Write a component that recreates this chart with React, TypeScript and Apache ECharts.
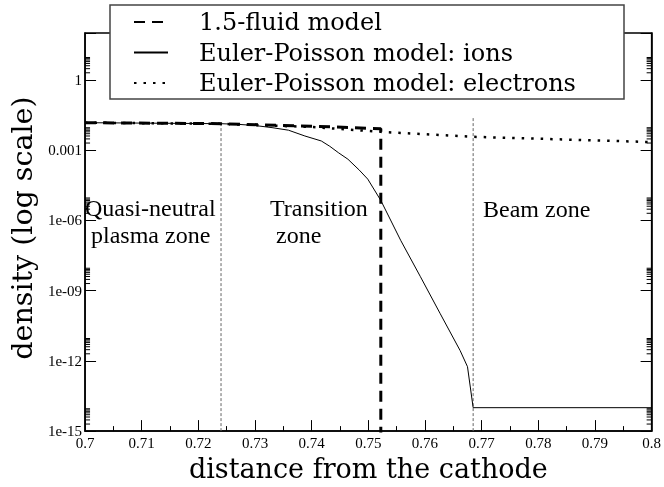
import React, { useEffect, useRef } from "react";
import * as echarts from "echarts";

// ---- data (x = distance from the cathode, values = density) ----
const fluidX = [0.7, 0.724, 0.74, 0.7522, 0.7522];
const fluidDensity = [0.0148, 0.0134, 0.0105, 0.0082, 1e-16];

const ionX = [0.7, 0.712, 0.724, 0.727, 0.73, 0.733, 0.7359, 0.7388, 0.7417, 0.7432, 0.7447, 0.7464, 0.7484, 0.7499, 0.7522, 0.7557, 0.7592, 0.7627, 0.7662, 0.7675, 0.7685, 0.8];
const ionDensity = [0.0148, 0.0141, 0.0134, 0.0126, 0.0112, 0.0091, 0.00708, 0.0040, 0.00245, 1.45e-3, 7.8e-4, 4.07e-4, 1.4e-4, 5.75e-5, 7.08e-6, 1.41e-7, 3.89e-9, 1.02e-10, 2.75e-12, 5.62e-13, 1.0e-14, 1.0e-14];

const electronX = [0.7, 0.724, 0.74, 0.7522, 0.7685, 0.8];
const electronDensity = [0.0148, 0.0132, 0.0097, 0.006, 0.0037, 0.0022];

// zone boundaries (x position, top of marker line)
const boundaryX = [0.724, 0.7685];
const boundaryTop = [0.0134, 0.024];

const seriesNames = ["1.5-fluid model", "Euler-Poisson model: ions", "Euler-Poisson model: electrons"];

// axis: exponents of ten
const yMinExp = -15;
const yMaxExp = 2;
const yMajorStep = 3;
const xMin = 0.7;
const xMax = 0.8;
const xStep = 0.01;

const toLogPts = (xs: number[], ys: number[]) => xs.map((x, i) => [x, Math.log10(ys[i])]);

function yLabel(v: number): string {
  const k = Math.round(v);
  if (Math.abs(v - k) > 1e-9 || k % 3 !== 0) return "";
  if (k === 0) return "1";
  if (k === -3) return "0.001";
  return "1e-" + String(-k).padStart(2, "0");
}

export default function App() {
  const ref = useRef<HTMLDivElement>(null);
  useEffect(() => {
    if (!ref.current) return;
    const chart = echarts.init(ref.current, undefined, { renderer: "svg" });

    const minorTickData: number[][] = [];
    for (let k = yMinExp; k <= 0; k += yMajorStep) {
      for (let m = 2; m <= 9; m++) minorTickData.push([xMin, k + Math.log10(m)]);
    }

    const serif = "Liberation Serif";
    const cm = "DejaVu Serif";

    const yAxisBase = {
      type: "value",
      min: yMinExp,
      max: yMaxExp,
      interval: yMajorStep,
      splitLine: { show: false },
      axisLine: { show: true, lineStyle: { color: "#000", width: 1.5 } },
      axisTick: { show: true, inside: true, length: 11, lineStyle: { color: "#000", width: 1 } },
    };

    chart.setOption({
      animation: false,
      grid: { left: 82, right: 11, top: 33, bottom: 54, show: true, borderColor: "#000", borderWidth: 1.5, backgroundColor: "transparent" },
      xAxis: {
        type: "value",
        min: xMin,
        max: xMax,
        interval: xStep,
        splitLine: { show: false },
        axisLine: { show: true, onZero: false, lineStyle: { color: "#000", width: 1.5 } },
        axisTick: { show: true, inside: true, length: 11, lineStyle: { color: "#000", width: 1 } },
        minorTick: { show: true, splitNumber: 2, length: 5, lineStyle: { color: "#000", width: 1 } },
        axisLabel: {
          color: "#000",
          fontFamily: serif,
          fontSize: 15,
          margin: 4,
          formatter: (v: number) => String(Math.round(v * 1000) / 1000),
        },
        name: "distance from the cathode",
        nameLocation: "middle",
        nameGap: 18,
        nameTextStyle: { color: "#000", fontFamily: cm, fontSize: 27 },
      },
      yAxis: [
        {
          ...yAxisBase,
          position: "left",
          axisLabel: { color: "#000", fontFamily: serif, fontSize: 15, margin: 3, formatter: yLabel },
          name: "density (log scale)",
          nameLocation: "middle",
          nameGap: 40,
          nameTextStyle: { color: "#000", fontFamily: cm, fontSize: 28.5, padding: [0, 0, 0, 8] },
        },
        {
          ...yAxisBase,
          position: "right",
          axisLabel: { show: false },
        },
      ],
      legend: {
        orient: "vertical",
        left: 110,
        top: 5,
        padding: [5, 10, 4, 23],
        itemWidth: 34,
        itemHeight: 14,
        itemGap: 6.5,
        z: 10,
        data: seriesNames,
        itemStyle: { opacity: 0 },
        textStyle: { color: "#000", fontFamily: cm, fontSize: 24, lineHeight: 24, padding: [0, 0, 0, 26] },
      },
      graphic: [
        {
          type: "rect",
          z: 5,
          shape: { x: 110, y: 5, width: 514, height: 94 },
          style: { fill: "#fff", stroke: "#444", lineWidth: 1.5 },
        },
        { type: "text", z: 6, x: 85, y: 208, style: { text: "Quasi-neutral", font: `24px "${serif}"`, fill: "#000", textVerticalAlign: "middle" } },
        { type: "text", z: 6, x: 91, y: 235, style: { text: "plasma zone", font: `24px "${serif}"`, fill: "#000", textVerticalAlign: "middle" } },
        { type: "text", z: 6, x: 270, y: 208, style: { text: "Transition", font: `24px "${serif}"`, fill: "#000", textVerticalAlign: "middle" } },
        { type: "text", z: 6, x: 276, y: 235, style: { text: "zone", font: `24px "${serif}"`, fill: "#000", textVerticalAlign: "middle" } },
        { type: "text", z: 6, x: 483, y: 209, style: { text: "Beam zone", font: `24px "${serif}"`, fill: "#000", textVerticalAlign: "middle" } },
      ],
      series: [
        ...boundaryX.map((bx, i) => ({
          name: "boundary" + i,
          type: "line",
          data: [[bx, yMinExp], [bx, Math.log10(boundaryTop[i])]],
          symbol: "none",
          silent: true,
          z: 1,
          lineStyle: { color: "#666", width: 1, type: [3, 2] },
        })),
        {
          name: seriesNames[2],
          type: "line",
          data: toLogPts(electronX, electronDensity),
          symbol: "none",
          z: 2,
          lineStyle: { color: "#000", width: 2.5, type: [2.5, 7] },
          itemStyle: { color: "#000" },
        },
        {
          name: seriesNames[1],
          type: "line",
          data: toLogPts(ionX, ionDensity),
          symbol: "none",
          z: 3,
          lineStyle: { color: "#000", width: 1 },
          itemStyle: { color: "#000" },
        },
        {
          name: seriesNames[0],
          type: "line",
          data: toLogPts(fluidX, fluidDensity),
          symbol: "none",
          z: 4,
          lineStyle: { color: "#000", width: 3, type: [11, 7] },
          itemStyle: { color: "#000" },
        },
        {
          name: "minorTicks",
          type: "custom",
          silent: true,
          data: minorTickData,
          renderItem: (_p: any, api: any) => {
            const v = api.value(1);
            const l = api.coord([xMin, v]);
            const r = api.coord([xMax, v]);
            return {
              type: "group",
              children: [
                { type: "line", shape: { x1: l[0], y1: l[1], x2: l[0] + 5, y2: l[1] }, style: { stroke: "#000", lineWidth: 1 } },
                { type: "line", shape: { x1: r[0] - 5, y1: r[1], x2: r[0], y2: r[1] }, style: { stroke: "#000", lineWidth: 1 } },
              ],
            };
          },
        },
      ],
    });
    return () => chart.dispose();
  }, []);
  return <div ref={ref} style={{ position: "fixed", left: 0, top: 0, width: 664, height: 487 }} />;
}
